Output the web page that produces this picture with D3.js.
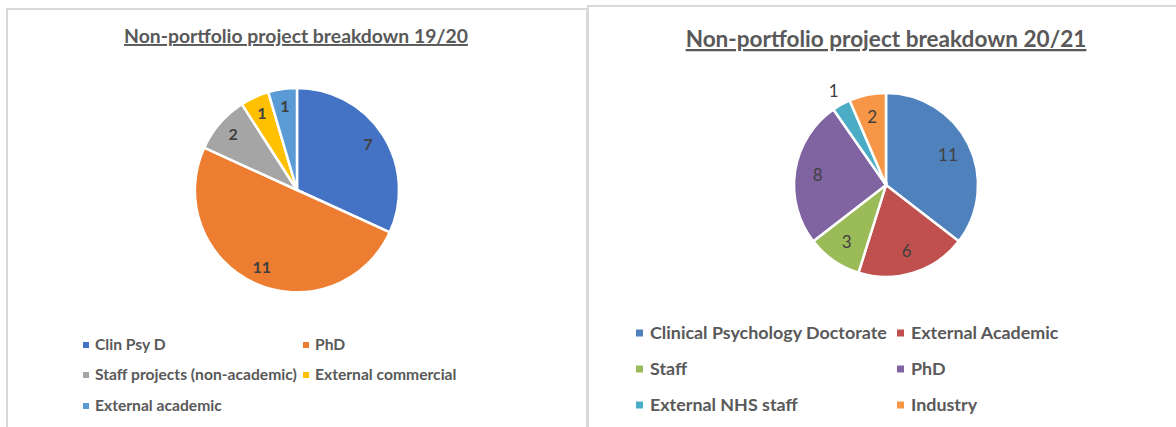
<!DOCTYPE html>
<html>
<head>
<meta charset="utf-8">
<script src="https://cdn.jsdelivr.net/npm/d3@7"></script>
<style>
body { margin: 0; background: #fff; }
svg { display: block; }
</style>
</head>
<body>
<div id="viz"></div>
<script>
var width = 1176;
var height = 427;

// 19/20 data
var cats1 = ["Clin Psy D", "PhD", "Staff projects (non-academic)", "External commercial", "External academic"];
var vals1 = [7, 11, 2, 1, 1];
var cols1 = ["#4472C4", "#ED7D31", "#A5A5A5", "#FFC000", "#5B9BD5"];

// 20/21 data
var cats2 = ["Clinical Psychology Doctorate", "External Academic", "Staff", "PhD", "External NHS staff", "Industry"];
var vals2 = [11, 6, 3, 8, 1, 2];
var cols2 = ["#4F81BD", "#C0504D", "#9BBB59", "#8064A2", "#4BACC6", "#F79646"];

var svg = d3.select("#viz").append("svg")
	.attr("width", width)
	.attr("height", height);

svg.append("rect")
	.attr("width", width)
	.attr("height", height)
	.style("fill", "#FFFFFF");

// panel frames
svg.append("rect")
	.attr("x", 7).attr("y", 9)
	.attr("width", 580).attr("height", 440)
	.style("fill", "none")
	.style("stroke", "#D9D9D9")
	.style("stroke-width", 2);

svg.append("rect")
	.attr("x", 588).attr("y", 6)
	.attr("width", 600).attr("height", 440)
	.style("fill", "none")
	.style("stroke", "#D9D9D9")
	.style("stroke-width", 2);

var font = "Lato, 'Open Sans', sans-serif";

// shrink/grow a text so that it is the given width
var fitText = function(sel, targetWidth) {
	var w = sel.node().getComputedTextLength();
	var fs = parseFloat(sel.style("font-size"));
	sel.style("font-size", (fs * targetWidth / w) + "px");
}

var fitSize = function(text, weight, targetWidth) {
	var t = svg.append("text")
		.style("font-family", font)
		.style("font-weight", weight)
		.style("font-size", "20px")
		.text(text);
	var w = t.node().getComputedTextLength();
	t.remove();
	return 20 * targetWidth / w;
}

var drawPie = function(opt) {
	var g = svg.append("g")
		.attr("transform", "translate(" + opt.cx + "," + opt.cy + ")");

	var color = d3.scaleOrdinal()
		.domain(opt.cats)
		.range(opt.cols);

	var pie = d3.pie()
		.sort(null)
		.value(function(d) { return d.value; });

	var data = opt.cats.map(function(c, i) { return { cat: c, value: opt.vals[i] }; });

	var arc = d3.arc()
		.innerRadius(0)
		.outerRadius(opt.r);

	var arcs = pie(data);

	g.selectAll(".slice")
			.data(arcs)
		.enter().append("path")
			.attr("class", "slice")
			.attr("d", arc)
			.style("fill", function(d) { return color(d.data.cat); })
			.style("stroke", "#FFFFFF")
			.style("stroke-width", opt.strokeW);

	g.selectAll(".lbl")
			.data(arcs)
		.enter().append("text")
			.attr("class", "lbl")
			.attr("transform", function(d) {
				var rr = opt.r * (opt.outside.indexOf(d.index) >= 0 ? opt.outFactor : opt.labelFactor);
				var a = (d.startAngle + d.endAngle) / 2;
				return "translate(" + (Math.sin(a) * rr) + "," + (-Math.cos(a) * rr) + ")";
			})
			.attr("text-anchor", "middle")
			.attr("dy", "0.35em")
			.style("font-family", font)
			.style("font-weight", opt.labelWeight)
			.style("font-size", opt.labelSize + "px")
			.style("fill", "#404040")
			.text(function(d) { return d.data.value; });

	// title
	var title = svg.append("text")
		.attr("x", opt.titleX)
		.attr("y", opt.titleY)
		.attr("text-anchor", "middle")
		.style("font-family", font)
		.style("font-weight", opt.titleWeight)
		.style("font-size", "18px")
		.style("fill", "#595959")
		.style("text-decoration", "underline")
		.text(opt.title);
	fitText(title, opt.titleW);

	// legend
	var lsize = fitSize(opt.legendRef, opt.legendWeight, opt.legendRefW);
	var leg = svg.selectAll(".leg" + opt.id)
			.data(opt.cats)
		.enter().append("g")
			.attr("class", "leg" + opt.id)
			.attr("transform", function(d, i) {
				return "translate(" + opt.legCols[i % 2] + "," + opt.legRows[Math.floor(i / 2)] + ")";
			});

	leg.append("rect")
		.attr("x", 0)
		.attr("y", -opt.box / 2)
		.attr("width", opt.box)
		.attr("height", opt.box)
		.style("fill", function(d) { return color(d); });

	leg.append("text")
		.attr("x", opt.box + opt.legGap)
		.attr("dy", "0.35em")
		.style("font-family", font)
		.style("font-weight", opt.legendWeight)
		.style("font-size", lsize + "px")
		.style("fill", "#595959")
		.text(function(d) { return d; });
}

drawPie({
	id: 1,
	cats: cats1, vals: vals1, cols: cols1,
	cx: 297, cy: 190, r: 102, strokeW: 2.5,
	labelFactor: 0.83, outside: [], outFactor: 1.15,
	labelWeight: 700, labelSize: 16,
	title: "Non-portfolio project breakdown 19/20",
	titleX: 296, titleY: 43, titleW: 344, titleWeight: 700,
	legendRef: "Staff projects (non-academic)", legendRefW: 202, legendWeight: 700,
	legCols: [83, 303], legRows: [345, 375, 406], box: 6, legGap: 6
});

drawPie({
	id: 2,
	cats: cats2, vals: vals2, cols: cols2,
	cx: 886, cy: 185, r: 92, strokeW: 2.5,
	labelFactor: 0.75, outside: [4], outFactor: 1.17,
	labelWeight: 400, labelSize: 17,
	title: "Non-portfolio project breakdown 20/21",
	titleX: 886, titleY: 47, titleW: 401, titleWeight: 700,
	legendRef: "Clinical Psychology Doctorate", legendRefW: 237, legendWeight: 700,
	legCols: [636, 897], legRows: [333, 369, 405], box: 7, legGap: 7
});
</script>
</body>
</html>
